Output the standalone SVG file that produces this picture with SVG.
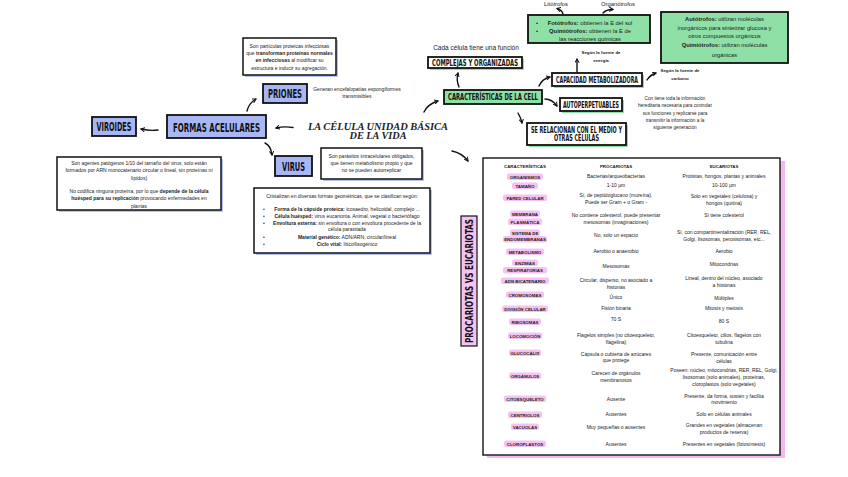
<svg xmlns="http://www.w3.org/2000/svg" width="848" height="477" viewBox="0 0 848 477">
<style>
.sm{font-family:"Liberation Sans",Arial,sans-serif;font-size:5px;fill:#222;text-anchor:middle}
.xs{font-family:"Liberation Sans",Arial,sans-serif;font-size:4.7px;fill:#222;text-anchor:middle}
.md{font-family:"Liberation Sans",Arial,sans-serif;font-size:5.8px;fill:#222;text-anchor:middle}
.b{font-weight:bold}
.hd{font-family:"DejaVu Sans Condensed","Liberation Sans Narrow","Liberation Sans",sans-serif;font-weight:bold;fill:#111;text-anchor:middle}
.lb{font-family:"Liberation Sans",Arial,sans-serif;font-size:4.4px;font-weight:bold;fill:#222;text-anchor:middle}
.pill{fill:#f6c2f1}
.blue{fill:#a8b6f4;stroke:#111;stroke-width:1.8}
.green{fill:#8fe0a7;stroke:#111;stroke-width:1.8}
.white{fill:#fff;stroke:#111;stroke-width:1.8}
.gsh{fill:#8fe0a7}
.bsh{fill:#b7c4f3}
.tbox{fill:#fff;stroke:#111;stroke-width:1.5}
.con{fill:none;stroke:#111;stroke-width:1.4;stroke-linecap:round;marker-end:url(#ah)}
</style>
<defs>
<marker id="ah" viewBox="0 0 10 10" refX="8" refY="5" markerWidth="5" markerHeight="5" orient="auto" markerUnits="userSpaceOnUse">
<path d="M1,1 L8,5 L1,9" fill="none" stroke="#111" stroke-width="2" stroke-linecap="round" stroke-linejoin="round"/>
</marker>
</defs>
<rect width="848" height="477" fill="#fff"/>

<!-- Title -->
<g id="title">
<text x="378" y="129.5" font-family="Liberation Serif,serif" font-style="italic" font-weight="bold" font-size="10" text-anchor="middle" textLength="140" lengthAdjust="spacingAndGlyphs" fill="#222">LA CÉLULA UNIDAD BÁSICA</text>
<text x="378" y="139" font-family="Liberation Serif,serif" font-style="italic" font-weight="bold" font-size="10" text-anchor="middle" textLength="57" lengthAdjust="spacingAndGlyphs" fill="#222">DE LA VIDA</text>
</g>

<!-- Left side -->
<g id="prions-text">
<rect x="245" y="40" width="93" height="37" class="bsh"/>
<rect x="243" y="38" width="93" height="37" class="tbox"/>
<text class="sm" x="289.5" y="47.5">Son partículas proteicas infecciosas</text>
<text class="sm" x="289.5" y="54.5">que <tspan class="b">transforman proteínas normales</tspan></text>
<text class="sm" x="289.5" y="62"><tspan class="b">en infecciosas</tspan> al modificar su</text>
<text class="sm" x="289.5" y="69.5">estructura e inducir su agregación.</text>
</g>
<g id="priones">
<rect x="263" y="84" width="44" height="19" class="blue"/>
<text class="hd" x="285" y="98.3" font-size="13" textLength="34" lengthAdjust="spacingAndGlyphs">PRIONES</text>
<text class="sm" x="357" y="91">Generan encefalopatías espongiformes</text>
<text class="sm" x="357" y="97.5">transmisibles</text>
</g>
<g id="viroides">
<rect x="92" y="117" width="44" height="19" class="blue"/>
<text class="hd" x="114" y="131.3" font-size="13" textLength="35" lengthAdjust="spacingAndGlyphs">VIROIDES</text>
</g>
<g id="formas">
<rect x="167" y="115" width="99" height="23" class="blue"/>
<text class="hd" x="216.5" y="131.5" font-size="13" textLength="87" lengthAdjust="spacingAndGlyphs">FORMAS ACELULARES</text>
</g>
<g id="virus">
<rect x="275" y="156" width="37" height="20" class="blue"/>
<text class="hd" x="293.5" y="170.8" font-size="13" textLength="23" lengthAdjust="spacingAndGlyphs">VIRUS</text>
</g>
<g id="virus-text">
<rect x="323" y="150" width="101" height="31" class="bsh"/>
<rect x="321" y="148" width="101" height="31" class="tbox"/>
<text class="sm" x="371.5" y="157.5">Son parásitos intracelulares obligados,</text>
<text class="sm" x="371.5" y="164.5">que tienen metabolismo propio y que</text>
<text class="sm" x="371.5" y="171.5">no se pueden autorreplicar</text>
</g>
<g id="viroides-text">
<rect x="59" y="159" width="164" height="53" class="bsh"/>
<rect x="57" y="157" width="164" height="53" class="tbox"/>
<text class="sm" x="139" y="164.5">Son agentes patógenos 1/10 del tamaño del virus; solo están</text>
<text class="sm" x="139" y="172">formados por ARN monocatenario circular o lineal, sin proteínas ni</text>
<text class="sm" x="139" y="179.5">lípidos)</text>
<text class="sm" x="139" y="192.5">No codifica ninguna proteína, por lo que <tspan class="b">depende de la célula</tspan></text>
<text class="sm" x="139" y="200"><tspan class="b">huésped para su replicación</tspan> provocando enfermedades en</text>
<text class="sm" x="139" y="207.5">plantas</text>
</g>
<g id="cristalizan">
<rect x="256" y="190" width="176" height="65" class="bsh"/>
<rect x="254" y="188" width="176" height="65" class="tbox"/>
<text class="sm" x="342" y="197.5">Cristalizan en diversas formas geométricas, que se clasifican según:</text>
<g class="sm">
<text x="264" y="210.5">•</text><text x="264" y="217.5">•</text><text x="264" y="224.5">•</text><text x="264" y="238.5">•</text><text x="264" y="245.5">•</text>
</g>
<text class="sm" x="347" y="210.5"><tspan class="b">Forma de la cápside proteica:</tspan> icosaedro, helicoidal, complejo ...</text>
<text class="sm" x="347" y="217.5"><tspan class="b">Célula huésped:</tspan> virus eucarionta. Animal, vegetal o bacteriófago</text>
<text class="sm" x="347" y="224.5"><tspan class="b">Envoltura externa:</tspan> sin envoltura o con envoltura procedente de la</text>
<text class="sm" x="347" y="231">célula parasitada</text>
<text class="sm" x="347" y="238.5"><tspan class="b">Material genético:</tspan> ADN/ARN, circular/lineal</text>
<text class="sm" x="347" y="245.5"><tspan class="b">Ciclo vital:</tspan> lítico/lisogénico</text>
</g>

<!-- Right top -->
<g id="trofos">
<text class="md" x="556" y="6">Litótrofos</text>
<text class="md" x="618" y="6">Organótrofos</text>
<rect x="528" y="15" width="122" height="28" class="green"/>
<text class="md" x="537" y="25">•</text><text class="md" x="537" y="33">•</text>
<text class="md" x="590" y="25"><tspan class="b">Fotótrofos:</tspan> obtienen la E del sol</text>
<text class="md" x="590" y="33"><tspan class="b">Quimiótrofos:</tspan> obtienen la E de</text>
<text class="md" x="590" y="41">las reacciones químicas</text>
</g>
<g id="autotrofos">
<rect x="661" y="12" width="127" height="51" class="green"/>
<text class="md" x="724.5" y="21"><tspan class="b">Autótrofos:</tspan> utilizan moléculas</text>
<text class="md" x="724.5" y="29.5">inorgánicos para sintetizar glucosa y</text>
<text class="md" x="724.5" y="38">otros compuestos orgánicos</text>
<text class="md" x="724.5" y="47"><tspan class="b">Quimiótrofos:</tspan> utilizan moléculas</text>
<text class="md" x="724.5" y="56.5">orgánicas</text>
</g>
<g id="complejas">
<text x="476" y="50" font-family="Liberation Sans,Arial,sans-serif" font-size="6.5" text-anchor="middle" fill="#222">Cada célula tiene una función</text>
<rect x="430" y="59" width="94" height="11" class="gsh"/>
<rect x="428" y="57" width="94" height="11" class="white"/>
<text class="hd" x="475" y="65.8" font-size="9" textLength="86" lengthAdjust="spacingAndGlyphs">COMPLEJAS Y ORGANIZADAS</text>
</g>
<g id="energia">
<text class="lb" x="601" y="53.5">Según la fuente de</text>
<text class="lb" x="601" y="61.5">energía</text>
</g>
<g id="carbono">
<text class="lb" x="680" y="72">Según la fuente de</text>
<text class="lb" x="680" y="80">carbono</text>
</g>
<g id="capacidad">
<rect x="554" y="75" width="90" height="13" class="gsh"/>
<rect x="552" y="73" width="90" height="13" class="white"/>
<text class="hd" x="597" y="82.8" font-size="9" textLength="82" lengthAdjust="spacingAndGlyphs">CAPACIDAD METABOLIZADORA</text>
</g>
<g id="caracteristicas">
<rect x="444" y="90" width="98" height="14" class="green"/>
<text class="hd" x="493" y="100.3" font-size="9" textLength="90" lengthAdjust="spacingAndGlyphs">CARACTERÍSTICAS DE LA CELL</text>
</g>
<g id="autoperpetuables">
<rect x="562" y="100" width="62" height="13" class="gsh"/>
<rect x="560" y="98" width="62" height="13" class="white"/>
<text class="hd" x="591" y="107.8" font-size="9" textLength="56" lengthAdjust="spacingAndGlyphs">AUTOPERPETUABLES</text>
</g>
<g id="autoperpetuables-text">
<text class="xs" x="675" y="100">Con tiene toda la información</text>
<text class="xs" x="675" y="107.3">hereditaria necesaria para controlar</text>
<text class="xs" x="675" y="114.6">sus funciones y replicarse para</text>
<text class="xs" x="675" y="121.9">transmitir la información a la</text>
<text class="xs" x="675" y="129.2">siguiente generación</text>
</g>
<g id="relacionan">
<rect x="529" y="125" width="99" height="22" class="gsh"/>
<rect x="527" y="123" width="99" height="22" class="white"/>
<text class="hd" x="576.5" y="132.5" font-size="9" textLength="91" lengthAdjust="spacingAndGlyphs">SE RELACIONAN CON EL MEDIO Y</text>
<text class="hd" x="576.5" y="141" font-size="9" textLength="45" lengthAdjust="spacingAndGlyphs">OTRAS CÉLULAS</text>
</g>

<!-- Vertical label -->
<g id="pvse">
<rect x="461" y="216" width="16" height="130" fill="#f6c2f1" stroke="#111" stroke-width="1.2"/>
<text class="hd" transform="translate(473.3,281) rotate(-90)" x="0" y="0" font-size="11" textLength="124" lengthAdjust="spacingAndGlyphs">PROCARIOTAS VS EUCARIOTAS</text>
</g>

<!-- Table -->
<g id="tabla">
<rect x="487" y="161" width="298" height="297" fill="#f3b9ee"/>
<rect x="483" y="158" width="297" height="297" fill="#fff" stroke="#222" stroke-width="1.5"/>
<g class="lb">
<text x="525" y="167.5">CARACTERÍSTICAS</text>
<text x="616" y="167.5">PROCARIOTAS</text>
<text x="724" y="167.5">EUCARIOTAS</text>
</g>
<g class="pill">
<rect x="507" y="173.5" width="36" height="6.5" rx="2"/>
<rect x="512" y="182.5" width="26" height="6.5" rx="2"/>
<rect x="503" y="194.5" width="44" height="6.5" rx="2"/>
<rect x="510" y="210.5" width="30" height="6.5" rx="2"/>
<rect x="508" y="218.5" width="34" height="6.5" rx="2"/>
<rect x="510" y="229.5" width="30" height="6.5" rx="2"/>
<rect x="503" y="236" width="44" height="6.5" rx="2"/>
<rect x="506" y="248.5" width="38" height="6.5" rx="2"/>
<rect x="512" y="259.5" width="26" height="6.5" rx="2"/>
<rect x="503" y="267" width="44" height="6.5" rx="2"/>
<rect x="501" y="277.5" width="48" height="6.5" rx="2"/>
<rect x="506" y="291.5" width="38" height="6.5" rx="2"/>
<rect x="502" y="305.5" width="46" height="6.5" rx="2"/>
<rect x="509" y="318.5" width="32" height="6.5" rx="2"/>
<rect x="508" y="332.5" width="34" height="6.5" rx="2"/>
<rect x="509" y="349.5" width="32" height="6.5" rx="2"/>
<rect x="509" y="372.5" width="32" height="6.5" rx="2"/>
<rect x="504" y="395.5" width="42" height="6.5" rx="2"/>
<rect x="508" y="411.5" width="34" height="6.5" rx="2"/>
<rect x="511" y="423.5" width="28" height="6.5" rx="2"/>
<rect x="504" y="440.5" width="42" height="6.5" rx="2"/>
</g>
<g class="lb">
<text x="525" y="178.5">ORGANISMOS</text>
<text x="525" y="187.5">TAMAÑO</text>
<text x="525" y="199.5">PARED CELULAR</text>
<text x="525" y="215.5">MEMBRANA</text>
<text x="525" y="223.5">PLASMÁTICA</text>
<text x="525" y="234.5">SISTEMA DE</text>
<text x="525" y="241">ENDOMEMBRANAS</text>
<text x="525" y="253.5">METABOLISMO</text>
<text x="525" y="264.5">ENZIMAS</text>
<text x="525" y="272">RESPIRATORIAS</text>
<text x="525" y="282.5">ADN BICATENARIO</text>
<text x="525" y="296.5">CROMOSOMAS</text>
<text x="525" y="310.5">DIVISIÓN CELULAR</text>
<text x="525" y="323.5">RIBOSOMAS</text>
<text x="525" y="337.5">LOCOMOCIÓN</text>
<text x="525" y="354.5">GLUCOCÁLIX</text>
<text x="525" y="377.5">ORGÁNULOS</text>
<text x="525" y="400.5">CITOESQUELETO</text>
<text x="525" y="416.5">CENTRIOLOS</text>
<text x="525" y="428.5">VACUOLAS</text>
<text x="525" y="445.5">CLOROPLASTOS</text>
</g>
<g class="sm">
<text x="616" y="177.5">Bacterias/arqueobacterias</text>
<text x="616" y="186.5">1-10 µm</text>
<text x="616" y="196.5">Sí, de peptidoglucano (mureína).</text>
<text x="616" y="203.5">Puede ser Gram + o Gram -</text>
<text x="616" y="216.5">No contiene colesterol, puede presentar</text>
<text x="616" y="224">mesosomas (invaginaciones)</text>
<text x="616" y="236.5">No, solo un espacio</text>
<text x="616" y="252.5">Aerobio o anaerobio</text>
<text x="616" y="267.5">Mesosomas</text>
<text x="616" y="281.5">Circular, disperso, no asociado a</text>
<text x="616" y="288.5">histonas</text>
<text x="616" y="298.5">Único</text>
<text x="616" y="309.5">Fisión binaria</text>
<text x="616" y="320.5">70 S</text>
<text x="616" y="336.5">Flagelos simples (no citoesqueleto,</text>
<text x="616" y="343.5">flagelina)</text>
<text x="616" y="355.5">Cápsula o cubierta de azúcares</text>
<text x="616" y="362">que protege</text>
<text x="616" y="374.5">Carecen de orgánulos</text>
<text x="616" y="381.5">membranosos</text>
<text x="616" y="400.5">Ausente</text>
<text x="616" y="415.5">Ausentes</text>
<text x="616" y="428.5">Muy pequeñas o ausentes</text>
<text x="616" y="445.5">Ausentes</text>
</g>
<g class="sm">
<text x="724" y="177.5">Protistas, hongos, plantas y animales</text>
<text x="724" y="186.5">10-100 µm</text>
<text x="724" y="197.5">Solo en vegetales (celulosa) y</text>
<text x="724" y="204.5">hongos (quitina)</text>
<text x="724" y="216.5">Sí tiene colesterol</text>
<text x="724" y="233.5">Sí, con compartimentalización (RER, REL,</text>
<text x="724" y="240.5">Golgi, lisosomas, peroxisomas, etc...</text>
<text x="724" y="252.5">Aerobio</text>
<text x="724" y="265.5">Mitocondrias</text>
<text x="724" y="279.5">Lineal, dentro del núcleo, asociado</text>
<text x="724" y="286.5">a histonas</text>
<text x="724" y="299.5">Múltiples</text>
<text x="724" y="309.5">Mitosis y meiosis</text>
<text x="724" y="322.5">80 S</text>
<text x="724" y="336.5">Citoesqueleto, cilios, flagelos con</text>
<text x="724" y="343.5">tubulina</text>
<text x="724" y="355.5">Presente, comunicación entre</text>
<text x="724" y="362.5">células</text>
<text x="724" y="371.5">Poseen: núcleo, mitocondrias, RER, REL, Golgi,</text>
<text x="724" y="378.5">lisosomas (solo animales), proteínas,</text>
<text x="724" y="385.5">cloroplastos (solo vegetales)</text>
<text x="724" y="397.5">Presente, da forma, sostén y facilita</text>
<text x="724" y="404">movimiento</text>
<text x="724" y="415.5">Solo en células animales</text>
<text x="724" y="426.5">Grandes en vegetales (almacenan</text>
<text x="724" y="433.5">productos de reserva)</text>
<text x="724" y="445.5">Presentes en vegetales (fotosíntesis)</text>
</g>
</g>

<!-- Connectors -->
<g id="connectors">
<path class="con" d="M293,127.5 Q284,126 276,128"/>
<path class="con" d="M158,130 Q150,131 141,129"/>
<path class="con" d="M247,111 Q249,103 256,99"/>
<path class="con" d="M265,143 Q271,146 272,155"/>
<path class="con" d="M424,112 Q428,104 438,101"/>
<path class="con" d="M452,151 Q462,153 468,161"/>
<path class="con" d="M459,87 Q456,80 458,73"/>
<path class="con" d="M539,86 Q542,79 550,77"/>
<path class="con" d="M545,99 Q552,99 557,106"/>
<path class="con" d="M518,113 Q521,118 522,123"/>
<path class="con" d="M577,72 L577,59"/>
<path class="con" d="M647,80 Q650,75 656,73"/>
<path class="con" d="M563,14 Q562,10 557,8.5"/>
<path class="con" d="M603,13 Q607,9 613,9.5"/>
</g>
</svg>
